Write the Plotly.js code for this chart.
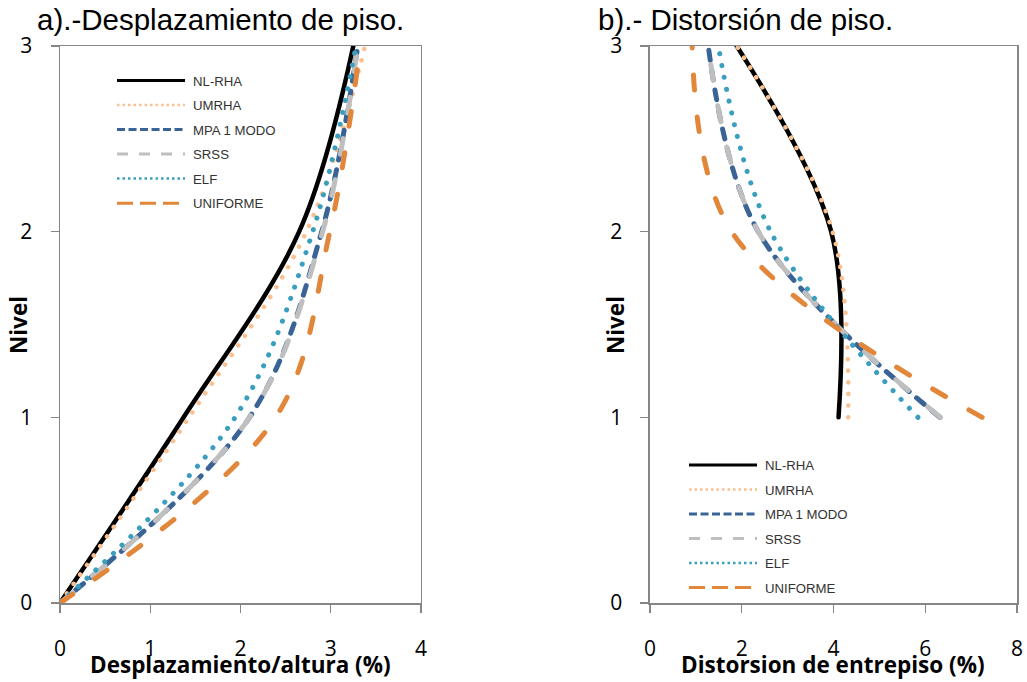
<!DOCTYPE html>
<html>
<head>
<meta charset="utf-8">
<script src="https://cdn.plot.ly/plotly-3.0.1.min.js"></script>
<style>
html, body { margin:0; padding:0; background:#fff; }
#chart { width:1027px; height:682px; }
.js-line { stroke-linecap: round; }
g.legendlines path.js-line { stroke-linecap: butt; stroke-width: 3px !important; transform: translateX(-3px); }
g.legendlines path.js-line[style*="rgb(250, 192, 144)"] { stroke-width: 2.5px !important; stroke-dasharray: 2.5px,3px !important; }
g.legendlines path.js-line[style*="rgb(58, 100, 150)"] { stroke-dasharray: 8px,3.5px !important; }
g.legendlines path.js-line[style*="rgb(191, 191, 191)"] { stroke-dasharray: 11px,11px !important; }
g.legendlines path.js-line[style*="rgb(58, 159, 191)"] { stroke-width: 2.5px !important; stroke-dasharray: 2.5px,3px !important; }
g.legendlines path.js-line[style*="rgb(226, 135, 58)"] { stroke-dasharray: 16px,7px !important; }
</style>
</head>
<body>
<div id="chart"></div>
<script>
// ---- data ----
const nivelesDesp = [0, 1, 2, 3];
const nivelesDist = [1, 2, 3];

const serieNombres = ['NL-RHA', 'UMRHA', 'MPA 1 MODO', 'SRSS', 'ELF', 'UNIFORME'];

// a) Desplazamiento/altura (%) per level 0..3
const despNLRHA    = [0, 1.37, 2.65, 3.25];
const despUMRHA    = [0, 1.43, 2.73, 3.38];
const despMPA      = [0, 2.10, 2.90, 3.30];
const despSRSS     = [0, 2.10, 2.91, 3.30];
const despELF      = [0, 1.94, 2.80, 3.28];
const despUNIFORME = [0, 2.39, 2.99, 3.33];

// b) Distorsion de entrepiso (%) per level 1..3
const distNLRHA    = [4.11, 3.95, 1.89];
const distUMRHA    = [4.32, 3.98, 1.89];
const distMPA      = [6.32, 2.36, 1.27];
const distSRSS     = [6.33, 2.36, 1.27];
const distELF      = [5.84, 2.63, 1.49];
const distUNIFORME = [7.24, 1.78, 0.92];

const ticksDespX = [0, 1, 2, 3, 4];
const ticksDistX = [0, 2, 4, 6, 8];
const ticksNivel = [0, 1, 2, 3];

// ---- styles ----
const estilos = [
  {color: '#000000', width: 4.5, dash: 'solid'},
  {color: '#FAC090', width: 4.5, dash: '0.1px,11.5px'},
  {color: '#3A6496', width: 5,   dash: '10px,10px'},
  {color: '#BFBFBF', width: 5,   dash: '16px,26px'},
  {color: '#3A9FBF', width: 5,   dash: '0.1px,12px'},
  {color: '#E2873A', width: 5,   dash: '15px,27px'}
];

const despSeries = [despNLRHA, despUMRHA, despMPA, despSRSS, despELF, despUNIFORME];
const distSeries = [distNLRHA, distUMRHA, distMPA, distSRSS, distELF, distUNIFORME];

const traces = [];
despSeries.forEach((xs, i) => {
  traces.push({
    type: 'scatter', mode: 'lines', name: serieNombres[i],
    x: xs, y: nivelesDesp, xaxis: 'x', yaxis: 'y',
    line: {color: estilos[i].color, width: estilos[i].width, dash: estilos[i].dash, shape: 'spline', smoothing: 1},
    legend: 'legend', legendgroup: 'a' + i, hoverinfo: 'x+y+name'
  });
});
distSeries.forEach((xs, i) => {
  traces.push({
    type: 'scatter', mode: 'lines', name: serieNombres[i],
    x: xs, y: nivelesDist, xaxis: 'x2', yaxis: 'y2',
    line: {color: estilos[i].color, width: estilos[i].width, dash: estilos[i].dash, shape: 'spline', smoothing: 1},
    legend: 'legend2', legendgroup: 'b' + i, hoverinfo: 'x+y+name'
  });
});

const axisCommon = {
  showline: true, mirror: true, linecolor: '#868686', linewidth: 1.5,
  ticks: 'outside', ticklen: 8, tickwidth: 1.5, tickcolor: '#868686',
  showgrid: false, zeroline: false,
  tickfont: {family: '"Open Sans", Lato, sans-serif', size: 21, color: '#000'}
};

const legendCommon = {
  bgcolor: 'rgba(0,0,0,0)', borderwidth: 0,
  font: {family: '"Liberation Sans", Arial, sans-serif', size: 13.2, color: '#333'},
  itemwidth: 68, tracegroupgap: 4.35, traceorder: 'grouped',
  xanchor: 'left', yanchor: 'top'
};

const tituloFont = {family: '"Liberation Sans", Arial, sans-serif', size: 29.5, color: '#000'};
const ejeFont = {family: '"Open Sans", Lato, sans-serif', size: 22.5, color: '#000'};

const layout = {
  width: 1027, height: 682,
  margin: {l: 60, r: 10, t: 46, b: 79},
  paper_bgcolor: '#fff', plot_bgcolor: '#fff',
  showlegend: true,
  xaxis: Object.assign({}, axisCommon, {domain: [0, 0.3772], range: [0, 4], tickvals: ticksDespX, anchor: 'y', ticklabelstandoff: 18}),
  yaxis: Object.assign({}, axisCommon, {domain: [0, 1], range: [0, 3], tickvals: ticksNivel, anchor: 'x', ticklabelstandoff: 14}),
  xaxis2: Object.assign({}, axisCommon, {domain: [0.6165, 1], range: [0, 8], tickvals: ticksDistX, anchor: 'y2', ticklabelstandoff: 18}),
  yaxis2: Object.assign({}, axisCommon, {domain: [0, 1], range: [0, 3], tickvals: ticksNivel, anchor: 'x2', ticklabelstandoff: 14}),
  legend: Object.assign({}, legendCommon, {x: 0.0575, y: 0.965}),
  legend2: Object.assign({}, legendCommon, {x: 0.6552, y: 0.275}),
  annotations: [
    {text: 'a).-Desplazamiento de piso.', xref: 'paper', yref: 'paper', x: 0.168, y: 1.0467, xanchor: 'center', yanchor: 'middle', showarrow: false, font: tituloFont},
    {text: 'b).- Distorsión de piso.', xref: 'paper', yref: 'paper', x: 0.7158, y: 1.0467, xanchor: 'center', yanchor: 'middle', showarrow: false, font: tituloFont},
    {text: '<b>Desplazamiento/altura (%)</b>', xref: 'paper', yref: 'paper', x: 0.1886, y: -0.1113, xanchor: 'center', yanchor: 'middle', showarrow: false, font: ejeFont},
    {text: '<b>Distorsion de entrepiso (%)</b>', xref: 'paper', yref: 'paper', x: 0.808, y: -0.1113, xanchor: 'center', yanchor: 'middle', showarrow: false, font: ejeFont},
    {text: '<b>Nivel</b>', xref: 'paper', yref: 'paper', x: -0.0439, y: 0.499, xanchor: 'center', yanchor: 'middle', textangle: -90, showarrow: false, font: ejeFont},
    {text: '<b>Nivel</b>', xref: 'paper', yref: 'paper', x: 0.58, y: 0.499, xanchor: 'center', yanchor: 'middle', textangle: -90, showarrow: false, font: ejeFont}
  ]
};

Plotly.newPlot('chart', traces, layout, {displayModeBar: false, staticPlot: true});
</script>
</body>
</html>
